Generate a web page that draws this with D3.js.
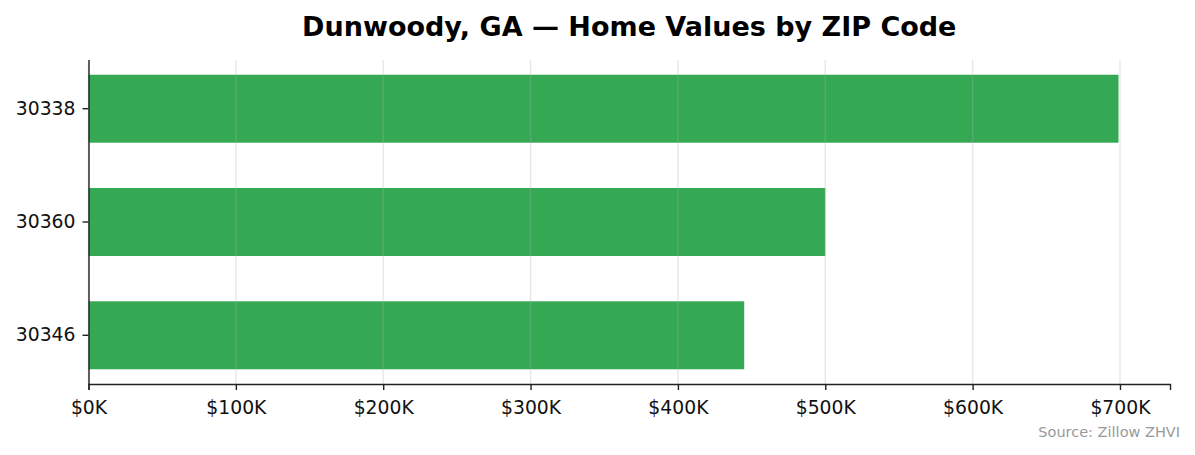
<!DOCTYPE html>
<html>
<head>
<meta charset="utf-8">
<script src="https://cdn.jsdelivr.net/npm/d3@7"></script>
<style>
  body { margin: 0; background: #fff; }
  svg text { font-family: "DejaVu Sans", sans-serif; }
</style>
</head>
<body>
<div id="chart"></div>
<script>
// data
const zips = ["30338", "30360", "30346"];
const values = [699000, 500000, 445000];
const xTicks = [0, 100000, 200000, 300000, 400000, 500000, 600000, 700000];

const width = 1195;
const height = 455;
const margins = { top: 60, right: 25, bottom: 71, left: 88.5 };

const svg = d3.select("#chart")
    .append("svg")
    .attr("width", width)
    .attr("height", height)

const xScale = d3.scaleLinear()
    .domain([0, d3.max(values) * 1.05])
    .range([margins.left, width - margins.right])

const yScale = d3.scaleBand()
    .domain(zips)
    .range([margins.top, height - margins.bottom])
    .paddingInner(0.4)
    .paddingOuter(0.13)

const data = zips.map((z, i) => ({ zip: z, value: values[i] }))

svg.selectAll("rect.bar")
    .data(data)
    .join("rect")
    .attr("class", "bar")
    .attr("x", xScale(0))
    .attr("y", d => yScale(d.zip))
    .attr("width", d => xScale(d.value) - xScale(0))
    .attr("height", yScale.bandwidth())
    .attr("fill", "#34a853")

// vertical grid, drawn over the bars like matplotlib does
svg.append("g")
    .selectAll("line")
    .data(xTicks)
    .join("line")
    .attr("x1", d => xScale(d))
    .attr("x2", d => xScale(d))
    .attr("y1", margins.top)
    .attr("y2", height - margins.bottom)
    .attr("stroke", "#b0b0b0")
    .attr("stroke-opacity", 0.3)
    .attr("stroke-width", 1.4)

const xAxis = svg.append("g")
    .attr("transform", `translate(0,${height - margins.bottom})`)
    .call(d3.axisBottom(xScale)
        .tickValues(xTicks)
        .tickFormat(d => "$" + d / 1000 + "K")
        .tickSizeOuter(0)
        .tickSize(6)
        .tickPadding(11))

const yAxis = svg.append("g")
    .attr("transform", `translate(${margins.left},0)`)
    .call(d3.axisLeft(yScale)
        .tickSizeOuter(0)
        .tickSize(6)
        .tickPadding(7))

svg.selectAll(".domain, .tick line")
    .attr("stroke", "#222")
    .attr("stroke-width", 1.4)

svg.selectAll(".tick text")
    .attr("fill", "#111")
    .style("font-size", "18.8px")

// draw left spine over the full axis height
yAxis.select(".domain")
    .attr("d", `M0.5,${margins.top}V${height - margins.bottom}`)

svg.append("text")
    .attr("x", (xScale.range()[0] + xScale.range()[1]) / 2)
    .attr("y", 36)
    .attr("text-anchor", "middle")
    .style("font-size", "27px")
    .style("font-weight", "bold")
    .text("Dunwoody, GA — Home Values by ZIP Code")

svg.append("text")
    .attr("x", 1180)
    .attr("y", 437)
    .attr("text-anchor", "end")
    .style("font-size", "14.5px")
    .attr("fill", "#999")
    .text("Source: Zillow ZHVI")
</script>
</body>
</html>
